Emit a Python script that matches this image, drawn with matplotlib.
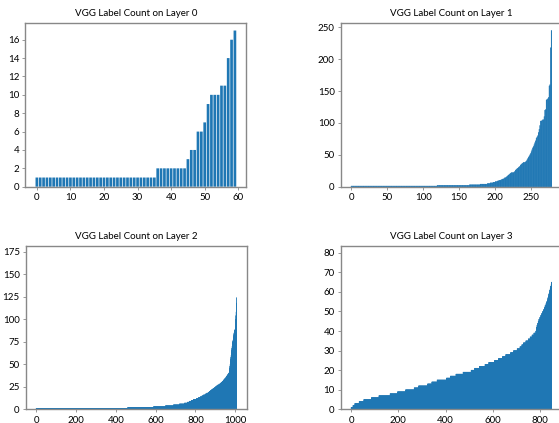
import numpy as np
import matplotlib
matplotlib.use("Agg")
import matplotlib.pyplot as plt
from matplotlib.ticker import MultipleLocator

plt.rcParams['font.family'] = ['Lato', 'DejaVu Sans']

# layer 0: sorted label counts (60 labels)
layer0 = [1] * 36 + [2] * 9 + [3, 4, 4, 6, 6, 7, 9, 10, 10, 10, 11, 11, 14, 16, 17]

# layer 1: low runs (value, how many) then the tail read bar by bar
layer1_runs = [(1, 120), (2, 45), (3, 15), (4, 10)]
layer1_tail = [5, 5, 5, 5, 6, 6, 6, 6, 7, 7,
               7, 8, 8, 8, 9, 9, 10, 10, 10, 11,
               11, 12, 12, 13, 14, 14, 15, 16, 17, 18,
               19, 20, 21, 22, 22, 22, 22, 23, 24, 26,
               27, 28, 29, 30, 31, 32, 34, 35, 36, 37,
               38, 38, 38, 39, 40, 42, 44, 46, 48, 50,
               52, 55, 58, 61, 63, 66, 69, 72, 76, 78,
               80, 85, 90, 96, 103, 103, 104, 105, 105, 110,
               120, 121, 136, 137, 138, 140, 158, 160, 218, 245]

# layer 2
layer2_runs = [(1, 460), (2, 130), (3, 60), (4, 40), (5, 30), (6, 25), (7, 15),
               (8, 10), (9, 10), (10, 10), (11, 15), (12, 10), (13, 10), (14, 8),
               (15, 8), (16, 8), (17, 8), (18, 7), (19, 6), (20, 6), (21, 6),
               (22, 6), (23, 6), (24, 6), (25, 6), (26, 6), (27, 6), (28, 6),
               (29, 5), (30, 5), (31, 5), (32, 4), (33, 4), (34, 4), (35, 3),
               (36, 3), (37, 3), (38, 3), (39, 3), (40, 2)]
layer2_tail = [40, 41, 42, 44, 46, 48, 50, 52, 54, 56,
               58, 60, 62, 64, 66, 68, 70, 72, 74, 75,
               76, 77, 78, 80, 82, 84, 85, 86, 87, 88,
               88, 89, 90, 92, 100, 104, 108, 110, 118, 124]

# layer 3
layer3_runs = [(1, 8), (2, 8), (3, 18), (4, 20), (5, 32), (6, 32), (7, 47),
               (8, 32), (9, 34), (10, 36), (11, 19), (12, 38), (13, 18), (14, 22),
               (15, 40), (16, 16), (17, 24), (18, 30), (19, 34), (20, 15), (21, 20),
               (22, 24), (23, 16), (24, 24), (25, 17), (26, 17), (27, 14), (28, 20),
               (29, 13), (30, 15), (31, 12), (32, 8), (33, 7), (34, 10), (35, 10),
               (36, 8), (37, 8), (38, 8), (39, 8)]
layer3_tail = [40, 40, 41, 42, 42, 43, 43, 43, 44, 44,
               45, 45, 45, 46, 46, 46, 46, 47, 47, 47,
               47, 48, 48, 48, 48, 49, 49, 49, 49, 50,
               50, 50, 50, 51, 51, 51, 52, 52, 52, 53,
               53, 53, 53, 54, 54, 54, 55, 55, 55, 56,
               56, 57, 57, 58, 58, 59, 59, 60, 60, 61,
               61, 62, 62, 63, 63, 64, 65, 65]


def expand(runs, tail):
    vals = np.repeat([v for v, n in runs], [n for v, n in runs])
    return np.concatenate([vals, tail])


counts = [np.array(layer0),
          expand(layer1_runs, layer1_tail),
          expand(layer2_runs, layer2_tail),
          expand(layer3_runs, layer3_tail)]

# axes boxes in figure fractions (right column is cut off)
boxes = [[0.0456, 0.5586, 0.395, 0.3877],
         [0.610, 0.5586, 0.395, 0.3877],
         [0.0465, 0.0324, 0.395, 0.3872],
         [0.610, 0.0324, 0.395, 0.3872]]
ylims = [None, None, 181.7, 83.7]
ysteps = [2, 50, 25, 10]
edges = [0, 0.35, 0.3, 0.3]

fig = plt.figure(figsize=(5.59, 4.23), dpi=100)
for i, c in enumerate(counts):
    ax = fig.add_axes(boxes[i])
    ax.bar(range(len(c)), c, color='#1f77b4', edgecolor='#1f77b4',
           linewidth=edges[i], snap=False)
    if ylims[i] is not None:
        ax.set_ylim(0, ylims[i])
    ax.yaxis.set_major_locator(MultipleLocator(ysteps[i]))
    ax.set_title("VGG Label Count on Layer %d" % i, fontsize=7, pad=5)
    ax.tick_params(labelsize=7, length=2.5, width=0.6, color='#888888', pad=2)
    for s in ax.spines.values():
        s.set_color('#888888')
        s.set_linewidth(1.0)

fig.savefig("out.png", dpi=100)
